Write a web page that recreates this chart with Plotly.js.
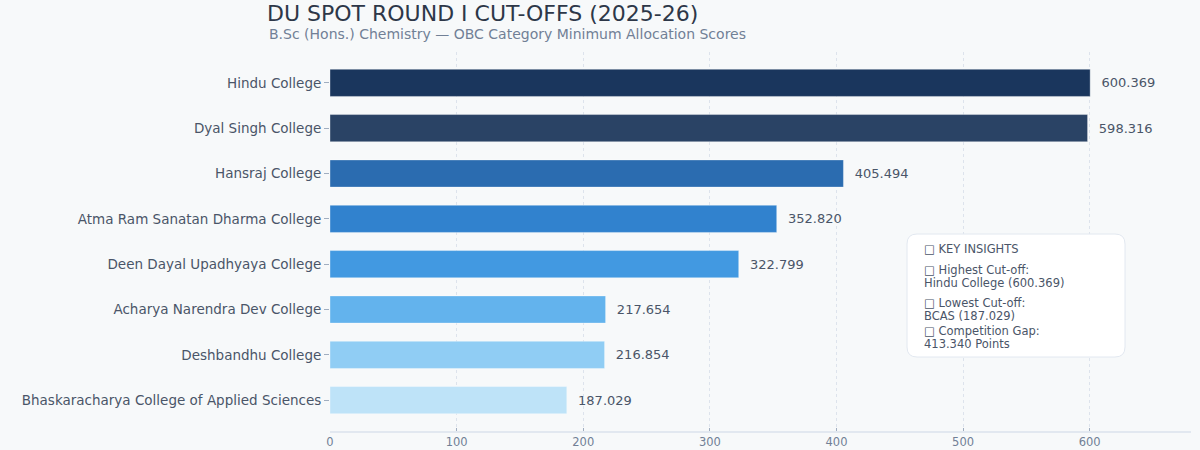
<!DOCTYPE html>
<html>
<head>
<meta charset="utf-8">
<script src="https://cdn.plot.ly/plotly-3.0.1.min.js"></script>
<style>html,body{margin:0;padding:0;background:#f7f9fa;}#chart{width:1200px;height:450px;}</style>
</head>
<body>
<div id="chart"></div>
<script>
// Data (top to bottom)
const colleges = [
  "Hindu College",
  "Dyal Singh College",
  "Hansraj College",
  "Atma Ram Sanatan Dharma College",
  "Deen Dayal Upadhyaya College",
  "Acharya Narendra Dev College",
  "Deshbandhu College",
  "Bhaskaracharya College of Applied Sciences"
];
const cutoffs = [600.369, 598.316, 405.494, 352.820, 322.799, 217.654, 216.854, 187.029];
const barColors = ["#1a365d", "#2a4365", "#2b6cb0", "#3182ce", "#4299e1", "#63b3ed", "#90cdf4", "#bee3f8"];
const xTicks = [0, 100, 200, 300, 400, 500, 600];

const titleText = "DU SPOT ROUND I CUT-OFFS (2025-26)";
const subtitleText = "B.Sc (Hons.) Chemistry — OBC Category Minimum Allocation Scores";
const insightLines = [
  "□ KEY INSIGHTS",
  "□ Highest Cut-off:",
  "Hindu College (600.369)",
  "□ Lowest Cut-off:",
  "BCAS (187.029)",
  "□ Competition Gap:",
  "413.340 Points"
];

const W = 1200, H = 450;
const M = {l: 330, r: 9, t: 52, b: 19};
const plotH = H - M.t - M.b, plotW = W - M.l - M.r;
const py = p => (H - M.b - p) / plotH;
const px = p => (p - M.l) / plotW;

const FONT = "'DejaVu Sans', sans-serif";

const trace = {
  type: "bar",
  orientation: "h",
  y: colleges,
  x: cutoffs,
  width: 0.6,
  marker: {color: barColors, line: {color: "rgba(255,255,255,0.35)", width: 1}},
  text: cutoffs.map(v => "  " + v.toFixed(3)),
  textposition: "outside",
  cliponaxis: false,
  textfont: {family: FONT, size: 13, color: "#4a5568"},
  hoverinfo: "skip"
};

// rounded rect for insights box
const bx0 = px(907), bx1 = px(1125), by0 = py(357), by1 = py(234);
const rx = 10 / plotW, ry = 10 / plotH;
const boxPath = `M ${bx0 + rx},${by1} L ${bx1 - rx},${by1} Q ${bx1},${by1} ${bx1},${by1 - ry} ` +
  `L ${bx1},${by0 + ry} Q ${bx1},${by0} ${bx1 - rx},${by0} L ${bx0 + rx},${by0} ` +
  `Q ${bx0},${by0} ${bx0},${by0 + ry} L ${bx0},${by1 - ry} Q ${bx0},${by1} ${bx0 + rx},${by1} Z`;

const insightY = [249, 270, 283, 303, 316, 331, 344];
const annotations = insightLines.map((t, i) => ({
  xref: "paper", yref: "paper",
  x: px(922), y: py(insightY[i]),
  xanchor: "left", yanchor: "middle", align: "left",
  text: t, showarrow: false,
  font: {family: FONT, size: 11.5, color: "#4a5568"}
}));
annotations.push({
  xref: "paper", yref: "paper",
  x: px(267), y: py(34),
  xanchor: "left", yanchor: "middle", align: "left",
  text: subtitleText, showarrow: false,
  font: {family: FONT, size: 14, color: "#718096"}
});

const layout = {
  width: W, height: H,
  margin: M,
  paper_bgcolor: "#f7f9fa",
  plot_bgcolor: "#f7f9fa",
  showlegend: false,
  title: {
    text: titleText,
    x: 267 / W, xanchor: "left", xref: "container",
    y: 1 - 13 / H, yanchor: "middle", yref: "container",
    font: {family: FONT, size: 22, color: "#2d3748"}
  },
  xaxis: {
    range: [0, 680],
    tickvals: xTicks,
    showgrid: true,
    gridcolor: "#dde3ec",
    griddash: "dot",
    gridwidth: 1,
    zeroline: false,
    showline: true,
    linecolor: "#e2e8f0",
    linewidth: 1.5,
    ticks: "inside",
    ticklen: 3,
    tickcolor: "#a0aec0",
    tickfont: {family: FONT, size: 11.5, color: "#718096"}
  },
  yaxis: {
    type: "category",
    range: [7.68, -0.68],
    showgrid: false,
    zeroline: false,
    showline: false,
    ticks: "outside",
    ticklen: 5,
    tickcolor: "#a0aec0",
    tickfont: {family: FONT, size: 13.5, color: "#4a5568"}
  },
  shapes: [{
    type: "path", xref: "paper", yref: "paper",
    path: boxPath,
    fillcolor: "#ffffff",
    line: {color: "#e2e8f0", width: 1},
    layer: "above"
  }],
  annotations: annotations
};

Plotly.newPlot("chart", [trace], layout, {displayModeBar: false, staticPlot: true});
</script>
</body>
</html>
